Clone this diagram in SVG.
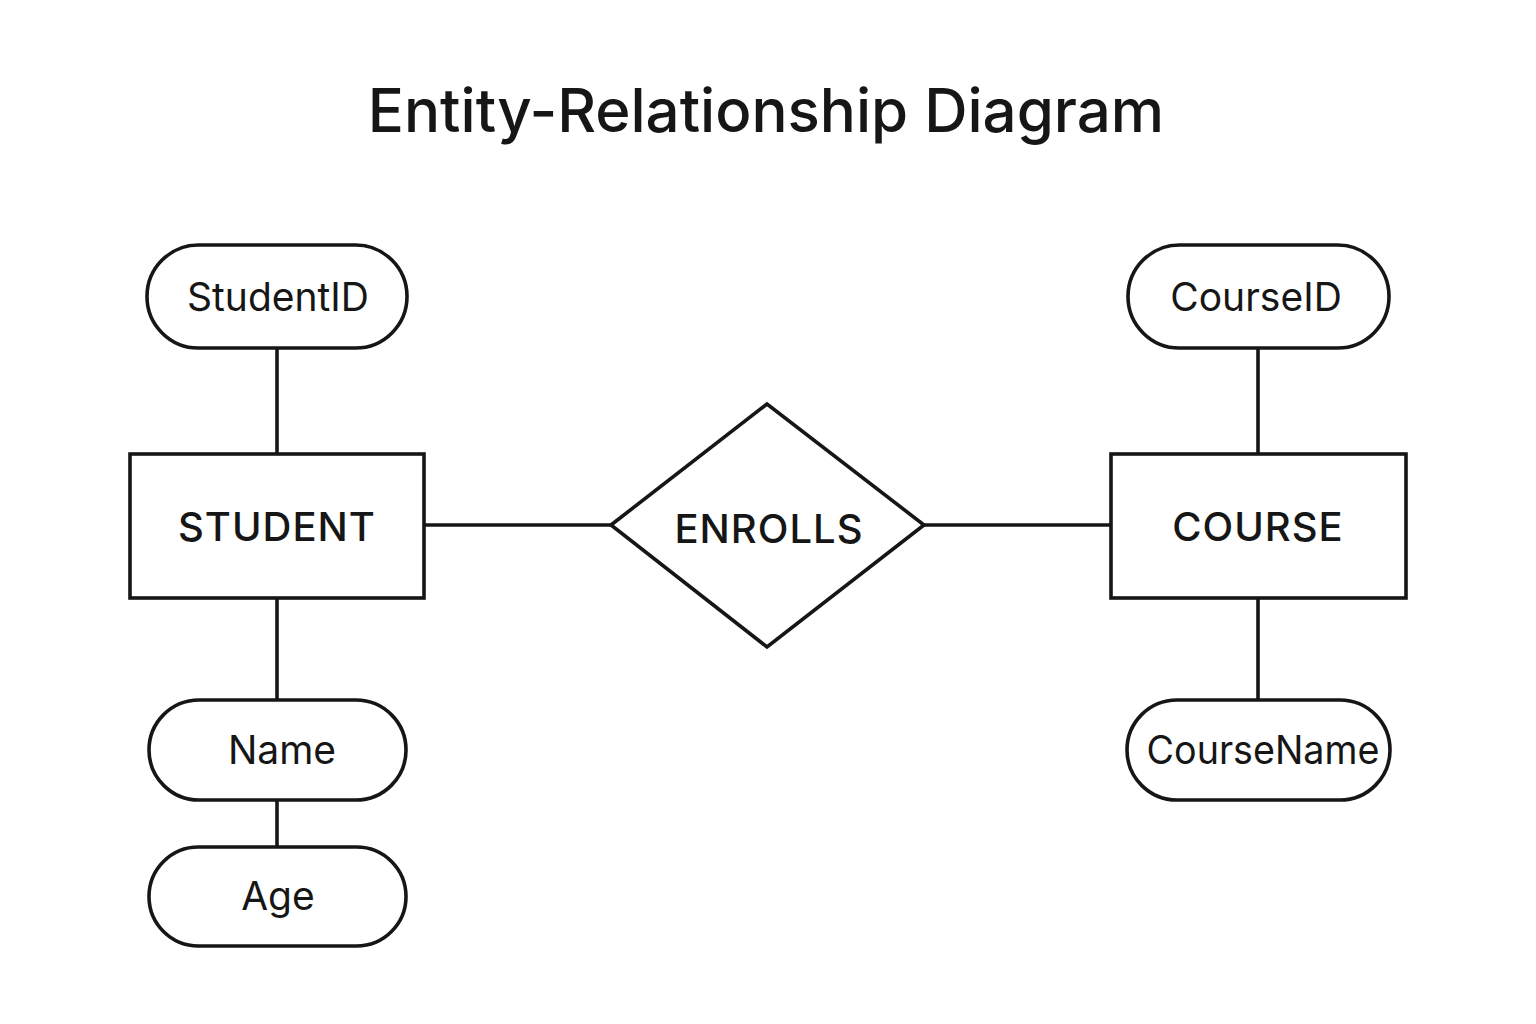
<svg xmlns="http://www.w3.org/2000/svg" width="1536" height="1024" viewBox="0 0 1536 1024">
<style>
.shape{fill:#fff;stroke:#161616;stroke-width:3.6}
.conn line{stroke:#161616;stroke-width:3.6}
.t{font-family:Inter,"Liberation Sans",sans-serif;fill:#161616;text-anchor:middle;dominant-baseline:central}
.attr{font-size:39px}
.ent{font-size:40px;font-weight:500;letter-spacing:1px}
.title{font-size:60px;font-weight:500}
</style>
<rect width="1536" height="1024" fill="#fff"/>
<text class="t title" x="766" y="110">Entity-Relationship Diagram</text>
<g class="conn">
<line x1="277" y1="348" x2="277" y2="454"/>
<line x1="277" y1="598" x2="277" y2="700"/>
<line x1="277" y1="800" x2="277" y2="847"/>
<line x1="424" y1="525" x2="611" y2="525"/>
<line x1="924" y1="525" x2="1111" y2="525"/>
<line x1="1258" y1="348" x2="1258" y2="454"/>
<line x1="1258" y1="598" x2="1258" y2="700"/>
</g>
<g id="studentid"><rect class="shape" x="147" y="245" width="260" height="103" rx="51.5"/><text class="t attr" x="278" y="296">StudentID</text></g>
<g id="student"><rect class="shape" x="130" y="454" width="294" height="144"/><text class="t ent" x="277" y="526">STUDENT</text></g>
<g id="name"><rect class="shape" x="149" y="700" width="257" height="100" rx="50"/><text class="t attr" x="282" y="749">Name</text></g>
<g id="age"><rect class="shape" x="149" y="847" width="257" height="99" rx="49.5"/><text class="t attr" x="278" y="895">Age</text></g>
<g id="enrolls"><polygon class="shape" points="611,525 767,404 924,525 767,647"/><text class="t ent" x="769" y="528">ENROLLS</text></g>
<g id="course"><rect class="shape" x="1111" y="454" width="295" height="144"/><text class="t ent" x="1258" y="526">COURSE</text></g>
<g id="courseid"><rect class="shape" x="1128" y="245" width="261" height="103" rx="51.5"/><text class="t attr" x="1256" y="296">CourseID</text></g>
<g id="coursename"><rect class="shape" x="1127" y="700" width="263" height="100" rx="50"/><text class="t attr" x="1263" y="749" textLength="233" lengthAdjust="spacingAndGlyphs">CourseName</text></g>
</svg>
